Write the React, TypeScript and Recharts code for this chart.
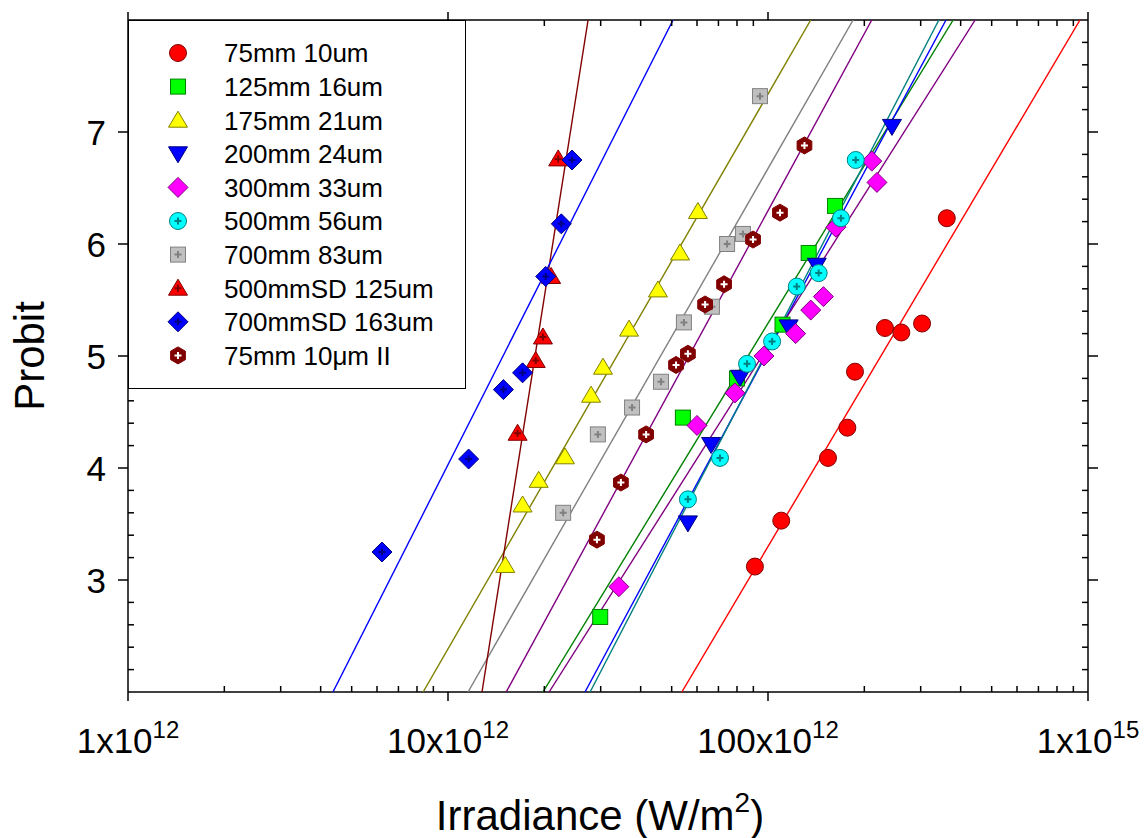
import React from 'react';
import { ScatterChart, Scatter, XAxis, YAxis, Legend } from 'recharts';

const FONT = '"Liberation Sans", Arial, Helvetica, sans-serif';

// irradiance (W/m2) / probit
const s1x = [9.1e13, 1.1e14, 1.54e14, 1.77e14, 1.87e14, 2.32e14, 2.61e14, 3.03e14, 3.62e14];
const s1y = [3.12, 3.53, 4.09, 4.36, 4.86, 5.25, 5.21, 5.29, 6.23];
const s2x = [2.99e13, 5.42e13, 8.0e13, 1.11e14, 1.34e14, 1.62e14];
const s2y = [2.67, 4.45, 4.8, 5.28, 5.92, 6.34];
const s3x = [1.51e13, 1.71e13, 1.92e13, 2.32e13, 2.8e13, 3.05e13, 3.68e13, 4.53e13, 5.31e13, 6.04e13];
const s3y = [3.13, 3.67, 3.89, 4.1, 4.65, 4.9, 5.24, 5.59, 5.92, 6.29];
const s4x = [5.62e13, 6.64e13, 8.18e13, 1.16e14, 1.42e14, 2.44e14];
const s4y = [3.51, 4.21, 4.81, 5.26, 5.81, 7.05];
const s5x = [3.42e13, 6.0e13, 7.88e13, 9.71e13, 1.22e14, 1.36e14, 1.49e14, 1.63e14, 2.11e14, 2.19e14];
const s5y = [2.94, 4.38, 4.67, 5.0, 5.2, 5.41, 5.53, 6.15, 6.74, 6.55];
const s6x = [5.62e13, 7.08e13, 8.6e13, 1.03e14, 1.23e14, 1.44e14, 1.69e14, 1.88e14];
const s6y = [3.72, 4.09, 4.93, 5.13, 5.62, 5.74, 6.23, 6.75];
const s7x = [2.29e13, 2.94e13, 3.76e13, 4.63e13, 5.46e13, 6.68e13, 7.45e13, 8.35e13, 9.44e13];
const s7y = [3.6, 4.3, 4.54, 4.77, 5.3, 5.44, 6.0, 6.09, 7.32];
const s8x = [1.65e13, 1.88e13, 1.98e13, 2.1e13, 2.21e13];
const s8y = [4.31, 4.96, 5.17, 5.71, 6.76];
const s9x = [6.22e12, 1.16e13, 1.49e13, 1.71e13, 2.02e13, 2.26e13, 2.44e13];
const s9y = [3.25, 4.08, 4.7, 4.85, 5.71, 6.18, 6.75];
const s10x = [2.92e13, 3.47e13, 4.16e13, 5.16e13, 5.62e13, 6.36e13, 7.29e13, 8.98e13, 1.09e14, 1.3e14];
const s10y = [3.36, 3.87, 4.3, 4.92, 5.02, 5.46, 5.64, 6.04, 6.28, 6.88];

// fitted probit lines: irradiance where each line meets probit 2 and probit 8
const fitLo = [5.38e13, 1.98e13, 8.36e12, 2.68e13, 2.07e13, 2.78e13, 1.155e13, 1.277e13, 4.37e12, 1.52e13];
const fitHi = [9.44e14, 3.79e14, 1.36e14, 3.6e14, 4.44e14, 3.42e14, 1.845e14, 2.74e13, 5.05e13, 2.11e14];
const fitColor = ['#FF0000', '#008000', '#808000', '#0000FF', '#800080', '#008080', '#808080', '#800000', '#0000FF', '#800080'];

const names = [
  '75mm 10um', '125mm 16um', '175mm 21um', '200mm 24um', '300mm 33um',
  '500mm 56um', '700mm 83um', '500mmSD 125um', '700mmSD 163um', '75mm 10μm II',
];
const xs = [s1x, s2x, s3x, s4x, s5x, s6x, s7x, s8x, s9x, s10x];
const ys = [s1y, s2y, s3y, s4y, s5y, s6y, s7y, s8y, s9y, s10y];

const styles = [
  { kind: 'circle', fill: '#FF0000', stroke: '#800000' },
  { kind: 'square', fill: '#00FF00', stroke: '#008000' },
  { kind: 'triUp', fill: '#FFFF00', stroke: '#808000' },
  { kind: 'triDown', fill: '#0000FF', stroke: '#000080' },
  { kind: 'diamond', fill: '#FF00FF', stroke: '#800080' },
  { kind: 'circle', fill: '#00FFFF', stroke: '#008080', cross: '#008080' },
  { kind: 'square', fill: '#C0C0C0', stroke: '#808080', cross: '#808080' },
  { kind: 'triUp', fill: '#FF0000', stroke: '#800000', cross: '#800000' },
  { kind: 'diamond', fill: '#0000FF', stroke: '#000080', cross: '#000080' },
  { kind: 'hex', fill: '#800000', stroke: '#800000', cross: '#FFFFFF' },
];

const majorX = [1e12, 1e13, 1e14, 1e15];
const xLabels = [['1x10', '12'], ['10x10', '12'], ['100x10', '12'], ['1x10', '15']];
const minorX = [1e12, 1e13, 1e14].flatMap((d) => [2, 3, 4, 5, 6, 7, 8, 9].map((m) => m * d));
const majorY = [3, 4, 5, 6, 7];
const minorY: number[] = [];
for (let i = 1; i < 30; i++) {
  if (i % 5 !== 0) minorY.push(Math.round((2 + i * 0.2) * 10) / 10);
}

function Glyph({ kind, cx, cy, fill, stroke, cross }: any) {
  let body: React.ReactNode = null;
  if (kind === 'circle') body = <circle cx={cx} cy={cy} r={8.5} />;
  else if (kind === 'square') body = <rect x={cx - 7.5} y={cy - 7.5} width={15} height={15} />;
  else if (kind === 'triUp')
    body = <polygon points={`${cx},${cy - 9} ${cx + 9.5},${cy + 7} ${cx - 9.5},${cy + 7}`} />;
  else if (kind === 'triDown')
    body = <polygon points={`${cx},${cy + 9} ${cx + 9.5},${cy - 7} ${cx - 9.5},${cy - 7}`} />;
  else if (kind === 'diamond')
    body = <polygon points={`${cx},${cy - 10} ${cx + 10},${cy} ${cx},${cy + 10} ${cx - 10},${cy}`} />;
  else {
    const pts = [0, 1, 2, 3, 4, 5]
      .map((k) => {
        const a = (Math.PI / 3) * k - Math.PI / 2;
        return `${cx + 8.5 * Math.cos(a)},${cy + 8.5 * Math.sin(a)}`;
      })
      .join(' ');
    body = <polygon points={pts} />;
  }
  return (
    <g fill={fill} stroke={stroke} strokeWidth={1}>
      {body}
      {cross && (
        <path d={`M${cx - 3.5},${cy}H${cx + 3.5}M${cx},${cy - 3.5}V${cy + 3.5}`} stroke={cross} strokeWidth={2} />
      )}
    </g>
  );
}

const BottomTick = (p: any) => {
  const { x, y, payload } = p;
  const i = majorX.indexOf(payload.value);
  if (i < 0) return <line x1={x} x2={x} y1={y} y2={y - 6} stroke="#000" strokeWidth={1.5} />;
  return (
    <g>
      <line x1={x} x2={x} y1={y} y2={y + 9} stroke="#000" strokeWidth={1.5} />
      <text x={x} y={y + 61} textAnchor="middle" fontSize={35} fontFamily={FONT} fill="#000">
        <tspan>{xLabels[i][0]}</tspan>
        <tspan dy={-15} fontSize={24}>{xLabels[i][1]}</tspan>
      </text>
    </g>
  );
};

const TopTick = (p: any) => {
  const { x, y, payload } = p;
  const major = majorX.includes(payload.value);
  return <line x1={x} x2={x} y1={y} y2={major ? y - 8 : y + 6} stroke="#000" strokeWidth={1.5} />;
};

const LeftTick = (p: any) => {
  const { x, y, payload } = p;
  if (!majorY.includes(payload.value))
    return <line x1={x} x2={x + 6} y1={y} y2={y} stroke="#000" strokeWidth={1.5} />;
  return (
    <g>
      <line x1={x} x2={x - 10} y1={y} y2={y} stroke="#000" strokeWidth={1.5} />
      <text x={x - 22} y={y} dy="0.36em" textAnchor="end" fontSize={35} fontFamily={FONT} fill="#000">
        {payload.value}
      </text>
    </g>
  );
};

const RightTick = (p: any) => {
  const { x, y, payload } = p;
  const major = majorY.includes(payload.value);
  return <line x1={x} x2={major ? x + 10 : x - 6} y1={y} y2={y} stroke="#000" strokeWidth={1.5} />;
};

const XTitle = (p: any) => {
  const { viewBox } = p;
  return (
    <text x={viewBox.x + viewBox.width / 2 - 8} y={viewBox.y + 138} textAnchor="middle" fontSize={42} fontFamily={FONT} fill="#000">
      <tspan>Irradiance (W/m</tspan>
      <tspan dy={-18} fontSize={28}>2</tspan>
      <tspan dy={18}>)</tspan>
    </text>
  );
};

const YTitle = (p: any) => {
  const { viewBox } = p;
  const cx = viewBox.x + 29;
  const cy = viewBox.y + viewBox.height / 2;
  return (
    <text x={cx} y={cy} dy="0.36em" transform={`rotate(-90 ${cx} ${cy})`} textAnchor="middle" fontSize={42} fontFamily={FONT} fill="#000">
      Probit
    </text>
  );
};

const LegendBox = () => (
  <div style={{ width: 338, height: 369, boxSizing: 'border-box', border: '1.5px solid #000', background: '#fff' }}>
    <svg width={335} height={366} style={{ display: 'block' }}>
      {names.map((n, i) => {
        const cy = 32 + i * 33.6;
        return (
          <g key={n}>
            <Glyph {...styles[i]} cx={49} cy={cy} />
            <text x={95} y={cy} dy="0.36em" fontSize={26} fontFamily={FONT} fill="#000">
              {n}
            </text>
          </g>
        );
      })}
    </svg>
  </div>
);

export default function App() {
  const axisLine = { stroke: '#000', strokeWidth: 1.5 };
  return (
    <div style={{ position: 'absolute', left: 0, top: 0, background: '#fff' }}>
      <ScatterChart width={1147} height={838} margin={{ top: 0, right: 0, bottom: 0, left: 0 }}>
        <XAxis
          xAxisId="bottom" dataKey="x" type="number" scale="log" domain={[1e12, 1e15]} allowDataOverflow
          ticks={[...majorX, ...minorX]} interval={0} tickSize={0} tickMargin={0} tickLine={false}
          tick={BottomTick} axisLine={axisLine} height={146} label={<XTitle />}
        />
        <XAxis
          xAxisId="top" orientation="top" dataKey="x" type="number" scale="log" domain={[1e12, 1e15]} allowDataOverflow
          ticks={[...majorX, ...minorX]} interval={0} tickSize={0} tickMargin={0} tickLine={false}
          tick={TopTick} axisLine={axisLine} height={20}
        />
        <YAxis
          yAxisId="left" dataKey="y" type="number" domain={[2, 8]} allowDataOverflow
          ticks={[...majorY, ...minorY]} interval={0} tickSize={0} tickMargin={0} tickLine={false}
          tick={LeftTick} axisLine={axisLine} width={128} label={<YTitle />}
        />
        <YAxis
          yAxisId="right" orientation="right" dataKey="y" type="number" domain={[2, 8]} allowDataOverflow
          ticks={[...majorY, ...minorY]} interval={0} tickSize={0} tickMargin={0} tickLine={false}
          tick={RightTick} axisLine={axisLine} width={59}
        />
        {fitLo.map((lo, i) => (
          <Scatter
            key={'fit' + i}
            xAxisId="top"
            yAxisId="right"
            data={[{ x: lo, y: 2 }, { x: fitHi[i], y: 8 }]}
            line={{ stroke: fitColor[i], strokeWidth: 1.4 }}
            shape={() => <g />}
            isAnimationActive={false}
            legendType="none"
          />
        ))}
        {names.map((n, i) => (
          <Scatter
            key={n}
            name={n}
            xAxisId="bottom"
            yAxisId="left"
            data={xs[i].map((x, j) => ({ x, y: ys[i][j] }))}
            shape={(p: any) => <Glyph {...styles[i]} cx={p.cx} cy={p.cy} />}
            isAnimationActive={false}
          />
        ))}
        <Legend
          layout="horizontal" verticalAlign="middle" align="center"
          content={() => <LegendBox />}
          wrapperStyle={{ left: 128, top: 20, width: 338, height: 369 }}
        />
      </ScatterChart>
    </div>
  );
}
